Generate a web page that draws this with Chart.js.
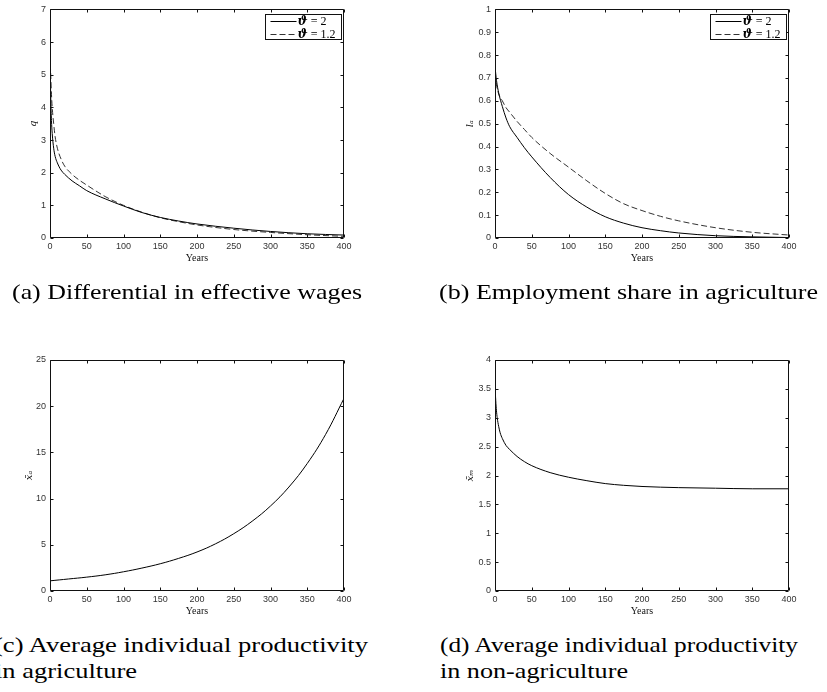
<!DOCTYPE html>
<html>
<head>
<meta charset="utf-8">
<script src="https://cdn.jsdelivr.net/npm/chart.js@4.4.1/dist/chart.umd.min.js"></script>
<style>
  body { margin: 0; background: #fff; }
  #wrap { position: relative; width: 827px; height: 692px; overflow: hidden; background: #fff; }
  #wrap canvas { position: absolute; }
  .cap {
    position: absolute;
    white-space: nowrap;
    font-family: "Liberation Serif", "Times New Roman", Times, serif;
    font-size: 22px;
    line-height: 22px;
    color: #000;
    transform-origin: 0 0;
  }
</style>
</head>
<body>
<div id="wrap">
  <canvas id="chartA" width="413" height="272" style="left:0;top:0"></canvas>
  <canvas id="chartB" width="414" height="272" style="left:413px;top:0"></canvas>
  <canvas id="chartC" width="413" height="325" style="left:0;top:300px"></canvas>
  <canvas id="chartD" width="414" height="325" style="left:413px;top:300px"></canvas>

  <div class="cap" data-w="350" style="left:12px;top:281px">(a) Differential in effective wages</div>
  <div class="cap" data-w="379" style="left:439px;top:281px">(b) Employment share in agriculture</div>
  <div class="cap" data-w="374" style="left:-6px;top:634px">(c) Average individual productivity</div>
  <div class="cap" data-w="142" style="left:-5px;top:660px">in agriculture</div>
  <div class="cap" data-w="358" style="left:440px;top:634px">(d) Average individual productivity</div>
  <div class="cap" data-w="188" style="left:440px;top:660px">in non-agriculture</div>
</div>

<script>
// (a) differential in effective wages q
const yearsA = [0, 1, 2, 3, 5, 7, 10, 15, 20, 30, 40, 50, 75, 100, 125, 150, 175, 200, 250, 300, 350, 400];
const qTheta2 = [5.6, 4.3, 3.6, 3.2, 2.75, 2.5, 2.3, 2.08, 1.95, 1.75, 1.6, 1.45, 1.2, 0.98, 0.78, 0.63, 0.52, 0.43, 0.3, 0.2, 0.13, 0.09];
const qTheta12 = [5.6, 5.0, 4.4, 4.0, 3.5, 3.1, 2.75, 2.42, 2.2, 1.95, 1.77, 1.62, 1.27, 1.0, 0.79, 0.62, 0.5, 0.4, 0.26, 0.17, 0.1, 0.05];

// (b) employment share in agriculture
const yearsB = [0, 2, 5, 10, 15, 20, 30, 40, 50, 75, 100, 125, 150, 175, 200, 225, 250, 300, 350, 400];
const laTheta2 = [0.75, 0.69, 0.635, 0.575, 0.525, 0.487, 0.44, 0.395, 0.355, 0.265, 0.19, 0.135, 0.093, 0.065, 0.045, 0.032, 0.022, 0.01, 0.005, 0.002];
const laTheta12 = [0.72, 0.67, 0.63, 0.6, 0.57, 0.55, 0.51, 0.475, 0.44, 0.37, 0.31, 0.25, 0.195, 0.15, 0.12, 0.095, 0.075, 0.045, 0.025, 0.013];

// (c) productivity in agriculture
const yearsC = [0, 25, 50, 75, 100, 125, 150, 175, 200, 225, 250, 275, 300, 325, 350, 375, 400];
const xAgri = [1.1, 1.3, 1.5, 1.75, 2.08, 2.48, 2.95, 3.53, 4.22, 5.1, 6.2, 7.55, 9.2, 11.25, 13.8, 16.95, 20.85];

// (d) productivity in non-agriculture
const yearsD = [0, 1, 2, 3, 5, 7, 10, 15, 20, 30, 40, 50, 75, 100, 125, 150, 175, 200, 250, 300, 350, 400];
const xNonAgri = [3.55, 3.3, 3.12, 3.0, 2.85, 2.74, 2.64, 2.52, 2.45, 2.33, 2.24, 2.17, 2.05, 1.97, 1.91, 1.86, 1.83, 1.81, 1.79, 1.78, 1.77, 1.77];

const seriesLabels = ["ϑ = 2", "ϑ = 1.2"];
const yearTicks = { min: 0, max: 400, step: 50 };

const toPoints = (xs, ys) => xs.map((x, i) => ({ x: x, y: ys[i] }));
const tickFont = { family: "'Liberation Sans', Arial, Helvetica, sans-serif", size: 9 };

// box round the plot with inward ticks on all four sides, matlab style
const frameTicks = {
  id: "frameTicks",
  afterDatasetsDraw(chart) {
    const { ctx, chartArea: a, scales } = chart;
    const L = Math.round(a.left) + 0.5, R = Math.round(a.right) - 0.5;
    const T = Math.round(a.top) + 0.5, B = Math.round(a.bottom) - 0.5;
    ctx.save();
    ctx.strokeStyle = "#111";
    ctx.lineWidth = 1;
    ctx.beginPath();
    ctx.rect(L, T, R - L, B - T);
    scales.x.ticks.forEach((t) => {
      const px = Math.round(scales.x.getPixelForValue(t.value)) + 0.5;
      ctx.moveTo(px, B); ctx.lineTo(px, B - 3);
      ctx.moveTo(px, T); ctx.lineTo(px, T + 3);
    });
    scales.y.ticks.forEach((t) => {
      const py = Math.round(scales.y.getPixelForValue(t.value)) + 0.5;
      ctx.moveTo(L, py); ctx.lineTo(L + 3, py);
      ctx.moveTo(R, py); ctx.lineTo(R - 3, py);
    });
    ctx.stroke();
    ctx.restore();
  },
};

// legend box in top right corner of the plot
const cornerLegend = {
  id: "cornerLegend",
  afterDraw(chart) {
    const sets = chart.data.datasets.filter((d) => d.label);
    if (!sets.length) return;
    const { ctx, chartArea: a } = chart;
    const w = 76, h = 25;
    const x0 = Math.round(a.right) - 3 - w + 0.5;
    const y0 = Math.round(a.top) + 5 + 0.5;
    ctx.save();
    ctx.fillStyle = "#fff";
    ctx.fillRect(x0, y0, w, h);
    ctx.strokeStyle = "#111";
    ctx.lineWidth = 1;
    ctx.strokeRect(x0, y0, w, h);
    sets.forEach((d, i) => {
      const y = Math.round(y0 + 6 + i * 13) + 0.5;
      ctx.beginPath();
      ctx.strokeStyle = d.borderColor;
      ctx.setLineDash(d.borderDash || []);
      ctx.moveTo(x0 + 5, y);
      ctx.lineTo(x0 + 31, y);
      ctx.stroke();
      ctx.setLineDash([]);
      ctx.fillStyle = "#000";
      ctx.textBaseline = "middle";
      ctx.font = 'italic bold 12px "DejaVu Serif"';
      const sym = d.label.charAt(0);
      ctx.fillText(sym, x0 + 32, y);
      const sw = ctx.measureText(sym).width;
      ctx.font = '12px "Liberation Serif", "Times New Roman", serif';
      ctx.fillText(d.label.slice(1), x0 + 32 + sw, y);
    });
    ctx.restore();
  },
};

function makeChart(id, opts) {
  const base = { borderWidth: 1, pointRadius: 0, fill: false };
  const datasets = opts.series.map((s, i) => Object.assign({}, base, {
    label: s.label,
    data: s.data,
    borderColor: i === 0 ? "#000" : "#333",
    borderDash: i === 0 ? [] : [6, 3],
    cubicInterpolationMode: opts.smooth ? "default" : "monotone",
    tension: opts.smooth ? 0.4 : 0,
  }));

  return new Chart(document.getElementById(id), {
    type: "line",
    data: { datasets: datasets },
    plugins: [frameTicks, cornerLegend],
    options: {
      responsive: false,
      animation: false,
      devicePixelRatio: 1,
      layout: { padding: opts.padding },
      plugins: { legend: { display: false }, tooltip: { enabled: false } },
      scales: {
        x: {
          type: "linear",
          min: yearTicks.min,
          max: yearTicks.max,
          afterFit: (s) => { s.height = opts.xHeight; },
          grid: { display: false, drawTicks: false },
          border: { display: false },
          ticks: { stepSize: yearTicks.step, padding: 3, color: "#333", font: tickFont, maxRotation: 0 },
          title: { display: true, text: "Years", color: "#111", padding: { top: 0, bottom: 8 }, font: { family: "'Liberation Serif', 'Times New Roman', serif", size: 10 } },
        },
        y: {
          min: opts.yMin,
          max: opts.yMax,
          afterFit: (s) => { s.width = opts.yWidth; },
          grid: { display: false, drawTicks: false },
          border: { display: false },
          ticks: {
            stepSize: opts.yStep,
            padding: 4,
            color: "#333",
            font: tickFont,
            callback: (v) => String(Math.round(v * 100) / 100),
          },
          title: { display: true, text: opts.yTitle, color: "#111", padding: { top: opts.yTitlePad, bottom: 0 }, font: { family: "DejaVu Serif", size: 10, style: "italic" } },
        },
      },
    },
  });
}

document.addEventListener("DOMContentLoaded", () => {
  makeChart("chartA", {
    series: [
      { label: seriesLabels[0], data: toPoints(yearsA, qTheta2) },
      { label: seriesLabels[1], data: toPoints(yearsA, qTheta12) },
    ],
    yMin: 0, yMax: 7, yStep: 1, yTitle: "q",
    padding: { left: 0, top: 7, right: 69, bottom: 0 },
    yWidth: 50, xHeight: 34, yTitlePad: 27,
  });

  makeChart("chartB", {
    series: [
      { label: seriesLabels[0], data: toPoints(yearsB, laTheta2) },
      { label: seriesLabels[1], data: toPoints(yearsB, laTheta12) },
    ],
    yMin: 0, yMax: 1, yStep: 0.1, yTitle: "lₐ",
    padding: { left: 0, top: 7, right: 38, bottom: 0 },
    yWidth: 82, xHeight: 34, yTitlePad: 51,
  });

  makeChart("chartC", {
    series: [{ label: "", data: toPoints(yearsC, xAgri) }],
    yMin: 0, yMax: 25, yStep: 5, yTitle: "x̄ₐ", smooth: true,
    padding: { left: 0, top: 60, right: 69, bottom: 0 },
    yWidth: 50, xHeight: 34, yTitlePad: 23,
  });

  makeChart("chartD", {
    series: [{ label: "", data: toPoints(yearsD, xNonAgri) }],
    yMin: 0, yMax: 4, yStep: 0.5, yTitle: "x̄ₘ",
    padding: { left: 0, top: 60, right: 38, bottom: 0 },
    yWidth: 82, xHeight: 34, yTitlePad: 51,
  });

  // stretch caption lines to the widths seen in the figure
  document.querySelectorAll(".cap").forEach((el) => {
    const natural = el.getBoundingClientRect().width;
    const target = parseFloat(el.dataset.w);
    el.style.transform = `scaleX(${target / natural})`;
  });
});
</script>
</body>
</html>
